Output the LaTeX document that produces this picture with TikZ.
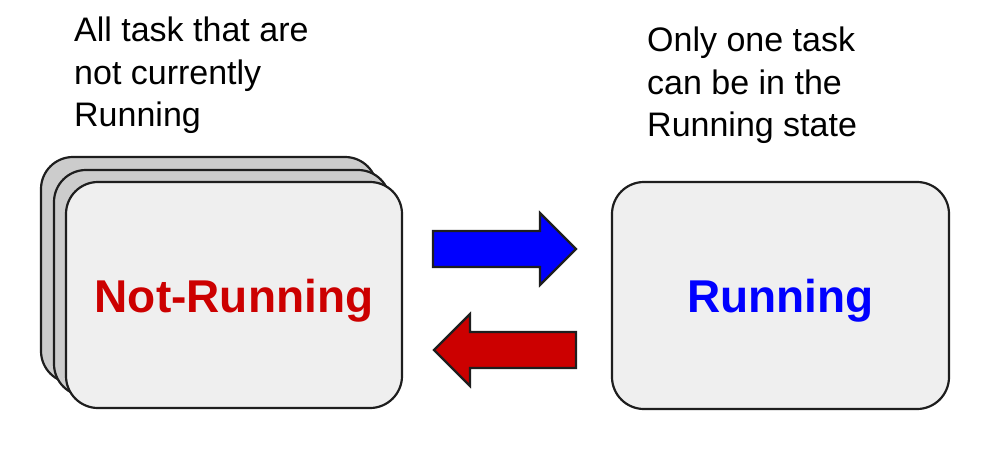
\documentclass[tikz,border=0pt]{standalone}
\usepackage{fontspec}
\setmainfont{Liberation Sans}
\definecolor{boxfill}{HTML}{EFEFEF}
\definecolor{backfill}{HTML}{CCCCCC}
\definecolor{edge}{HTML}{1E1E1E}
\definecolor{notred}{HTML}{CC0000}
\definecolor{runblue}{HTML}{0000FF}
\begin{document}
\begin{tikzpicture}[x=1pt,y=-1pt,
  statebox/.style={draw=edge, line width=2.2pt, rounded corners=32pt, minimum width=336pt, minimum height=226pt, inner sep=0pt, fill=boxfill,
    font=\bfseries\fontsize{46}{55}\selectfont, text height=34pt, text depth=0pt},
  backbox/.style={statebox, fill=backfill},
  note/.style={font=\fontsize{34}{42.5}\selectfont, align=left, inner sep=0pt, anchor=north west},
  blockarrow/.style={draw=edge, line width=2.2pt, miter limit=10, line join=miter}]
\useasboundingbox (0,0) rectangle (987,450);
\node[backbox] (back2) at (209,270) {};
\node[backbox] (back1) at (222,283) {};
\node[statebox, text=notred] (notrun) at (234,295) {Not-Running};
\node[statebox, text=runblue, minimum width=337pt, minimum height=227pt] (run) at (780.5,295.5) {Running};
\node[note] (notenot) at (74,17) {All task that are\\not currently\\Running};
\node[note] (noterun) at (647,27) {Only one task\\can be in the\\Running state};
\draw[blockarrow, fill=runblue] (433,231) -- (540,231) -- (540,213) -- (576,249) -- (540,285) -- (540,267) -- (433,267) -- cycle;
\draw[blockarrow, fill=notred] (576,332) -- (470,332) -- (470,314) -- (434,350) -- (470,386) -- (470,368) -- (576,368) -- cycle;
\end{tikzpicture}
\end{document}
